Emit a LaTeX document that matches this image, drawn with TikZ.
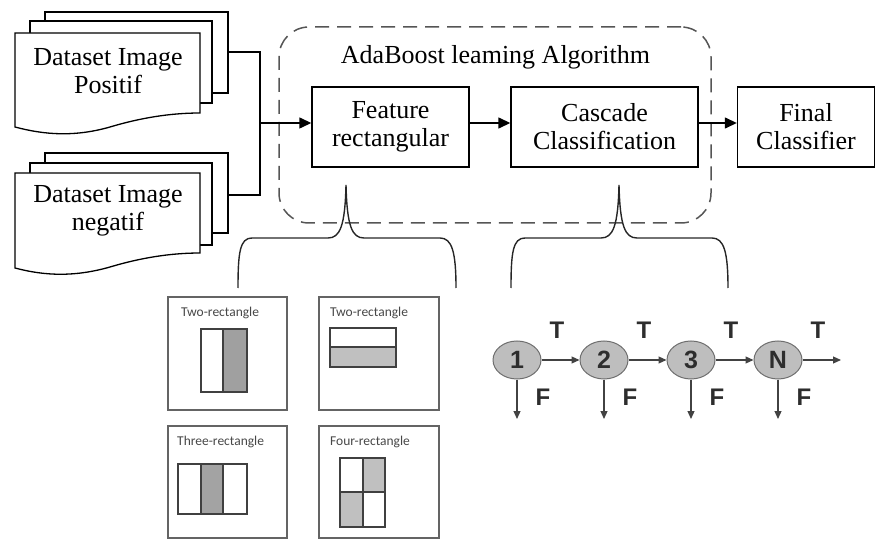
\documentclass[tikz,border=0pt]{standalone}
\usepackage{fontspec}
\setmainfont{Liberation Serif}
\newfontfamily\arialf{Liberation Sans}
\newfontfamily\calibf{Carlito}
\usetikzlibrary{arrows.meta,shapes.geometric}
\definecolor{dashgray}{RGB}{85,85,85}
\definecolor{nodefill}{RGB}{190,190,190}
\definecolor{nodeedge}{RGB}{110,110,110}
\definecolor{cascgray}{RGB}{45,45,45}
\definecolor{fillA}{RGB}{160,160,160}
\definecolor{fillB}{RGB}{192,192,192}
\definecolor{panelgray}{RGB}{100,100,100}
\begin{document}
\begin{tikzpicture}[x=1pt,y=-1pt,
  serifT/.style={font=\fontsize{26}{28}\selectfont, align=center},
  procbox/.style={draw, line width=1.4pt, minimum height=80pt, inner sep=0pt, serifT},
  arr/.style={-{Triangle[length=12pt,width=11pt]}, line width=1.4pt},
  sheet/.style={draw, fill=white, line width=1.3pt, line join=miter},
  bracel/.style={line width=1.4pt, draw=black!85},
  cnode/.style={ellipse, draw=nodeedge, fill=nodefill, line width=1pt, minimum width=48pt, minimum height=38pt, inner sep=0pt, text=cascgray, font=\arialf\bfseries\fontsize{25}{25}\selectfont},
  clab/.style={text=cascgray, font=\arialf\bfseries\fontsize{24}{24}\selectfont, inner sep=0pt},
  carr/.style={-{Triangle[length=8pt,width=7pt]}, line width=1.2pt, draw=cascgray!90},
  panel/.style={draw=panelgray, line width=1.4pt},
  ptext/.style={font=\calibf\fontsize{13.5}{13.5}\selectfont, text=black!72, anchor=west, inner sep=0pt},
  inner/.style={draw=black!75, line width=1.1pt}
]
\useasboundingbox (0,0) rectangle (876,540);

% ---------- Positive stack ----------
\draw[sheet] (45,93) -- (45,12) -- (228,12) -- (228,93) -- cycle;
\draw[sheet] (30,103) -- (30,21) -- (212,21) -- (212,103) -- cycle;
\draw[sheet] (15,127) -- (15,33) -- (200,33) -- (200,113)
  .. controls (170,113) and (140,118) .. (110,127)
  .. controls (75,137) and (45,135) .. (15,127) -- cycle;
\node[serifT] (posT) at (108,71) {Dataset Image\\Positif};

% ---------- Negative stack ----------
\draw[sheet] (45,233) -- (45,153) -- (228,153) -- (228,233) -- cycle;
\draw[sheet] (30,245) -- (30,163) -- (212,163) -- (212,245) -- cycle;
\draw[sheet] (15,268) -- (15,173) -- (200,173) -- (200,253)
  .. controls (170,253) and (140,258) .. (110,267)
  .. controls (75,277) and (45,276) .. (15,268) -- cycle;
\node[serifT] (negT) at (108,211) {Dataset Image\\negatif};

\coordinate (pos) at (228,52);
\coordinate (neg) at (228,195);
\coordinate (junc) at (260,123);

% ---------- AdaBoost dashed region ----------
\node[draw=dashgray, line width=1.5pt, dash pattern=on 14pt off 8pt, rounded corners=30pt,
      minimum width=432pt, minimum height=196pt, inner sep=0pt] (ada) at (495,125) {};
\node[serifT] (adaT) at (495.5,57) {AdaBoost leaming Algorithm};

% ---------- Process boxes ----------
\node[procbox, minimum width=157pt] (feat) at (390.5,127) {Feature\\rectangular};
\node[procbox, minimum width=187pt] (casc) at (604.5,127) {Cascade\\Classification};
\node[procbox, minimum width=137pt] (final) at (806,127) {Final\\Classifier};

\draw[line width=1.4pt] (pos) -| (junc) |- (neg);
\draw[arr] (junc) -- (feat.west |- junc);
\draw[arr] (feat.east |- junc) -- (casc.west |- junc);
\draw[arr] (casc.east |- junc) -- (final.west |- junc);

% ---------- Braces ----------
\draw[bracel] (238,288) .. controls (238,252) and (240,238) .. (252,238)
  -- (328,238) .. controls (340,238) and (345,226) .. (346,185)
  .. controls (347,226) and (352,238) .. (364,238)
  -- (440,238) .. controls (452,238) and (456,252) .. (456,288);
\draw[bracel] (511,288) .. controls (511,252) and (513,238) .. (525,238)
  -- (601,238) .. controls (613,238) and (618,226) .. (619,185)
  .. controls (620,226) and (625,238) .. (637,238)
  -- (712,238) .. controls (724,238) and (728,252) .. (728,288);

% ---------- Feature panels ----------
\draw[panel] (168,297) rectangle (287,410);
\node[ptext] (p1t) at (181,313) {Two-rectangle};
\draw[inner, fill=white] (201,329) rectangle (223,392);
\draw[inner, fill=fillA] (223,329) rectangle (247,392);

\draw[panel] (319,297) rectangle (439,410);
\node[ptext] (p2t) at (330,313) {Two-rectangle};
\draw[inner, fill=white] (330,328) rectangle (396,347);
\draw[inner, fill=fillB] (330,347) rectangle (396,367);

\draw[panel] (168,426) rectangle (287,538);
\node[ptext] (p3t) at (177,442) {Three-rectangle};
\draw[inner, fill=white] (178,464) rectangle (201,514);
\draw[inner, fill=fillB!85!black] (201,464) rectangle (223,514);
\draw[inner, fill=white] (223,464) rectangle (247,514);

\draw[panel] (319,426) rectangle (439,538);
\node[ptext] (p4t) at (330,442) {Four-rectangle};
\draw[inner, fill=white] (340,458) rectangle (363,492);
\draw[inner, fill=fillB] (363,458) rectangle (385,492);
\draw[inner, fill=fillB] (340,492) rectangle (363,527);
\draw[inner, fill=white] (363,492) rectangle (385,527);

% ---------- Cascade chain ----------
\node[cnode] (c1) at (517,360) {1};
\node[cnode] (c2) at (604,360) {2};
\node[cnode] (c3) at (691,360) {3};
\node[cnode] (cN) at (778,360) {N};
\coordinate (cend) at (841,360);
\draw[carr] (c1) -- (c2);
\draw[carr] (c2) -- (c3);
\draw[carr] (c3) -- (cN);
\draw[carr] (cN) -- (cend);
\foreach \n/\x in {c1/517,c2/604,c3/691,cN/778}{
  \coordinate (\n d) at (\x,419);
  \draw[carr] (\n.south) -- (\n d);
  \node[clab] at (\x+40,330) {T};
  \node[clab] at (\x+26,397) {F};
}
\end{tikzpicture}
\end{document}
